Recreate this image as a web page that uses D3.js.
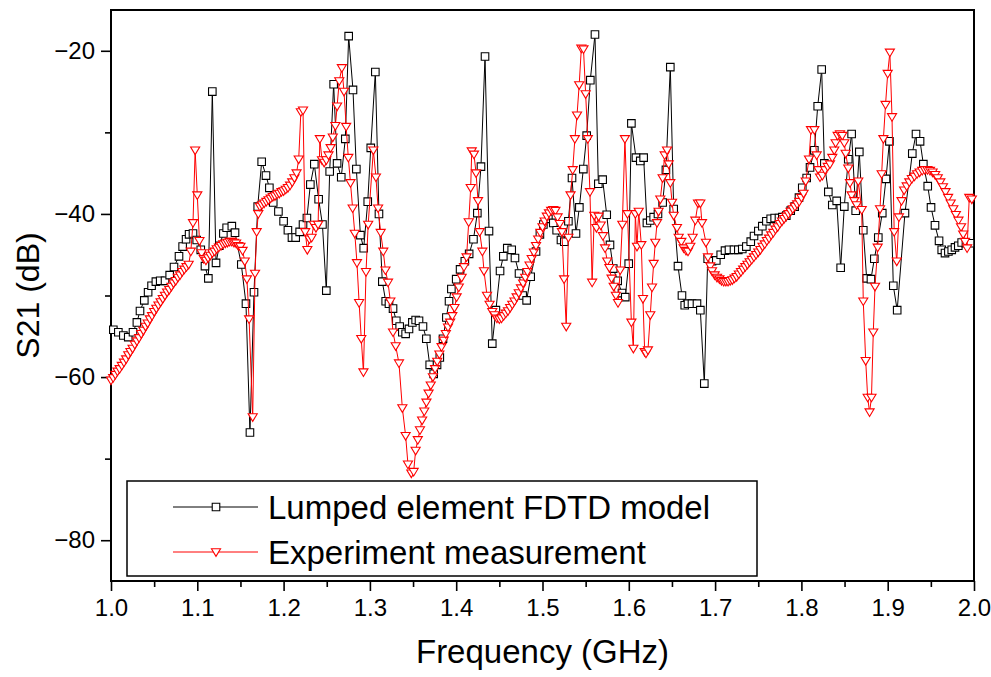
<!DOCTYPE html>
<html>
<head>
<meta charset="utf-8">
<script src="https://cdnjs.cloudflare.com/ajax/libs/d3/7.8.5/d3.min.js"></script>
<style>
  body { margin: 0; background: #fff; }
  svg { display: block; font-family: "Liberation Sans", Arial, sans-serif; }
</style>
</head>
<body>
<svg id="chart" width="991" height="677"></svg>
<script>
// tick values
const xMajorTicks = [1.0, 1.1, 1.2, 1.3, 1.4, 1.5, 1.6, 1.7, 1.8, 1.9, 2.0];
const xMinorTicks = [1.05, 1.15, 1.25, 1.35, 1.45, 1.55, 1.65, 1.75, 1.85, 1.95];
const yMajorTicks = [-80, -60, -40, -20];
const yMinorTicks = [-70, -50, -30];

const seriesNames = ['Lumped element FDTD model', 'Experiment measurement'];

// [frequency (GHz), S21 (dB)]
const modelPoints = [
  [1.0027,-54.2],[1.0085,-54.5],[1.0143,-54.9],[1.0200,-55.1],[1.0255,-54.5],[1.0300,-53.3],[1.0336,-51.9],[1.0386,-50.6],[1.0430,-49.6],[1.0470,-48.8],
  [1.0520,-48.3],[1.0570,-48.2],[1.0626,-48.2],[1.0680,-47.5],[1.0730,-46.5],[1.0788,-45.2],[1.0830,-44.0],[1.0870,-43.1],[1.0905,-42.5],[1.0950,-42.4],
  [1.0993,-43.2],[1.1040,-44.4],[1.1089,-46.4],[1.1128,-47.9],[1.1174,-25.0],[1.1217,-46.0],[1.1255,-43.9],[1.1302,-42.4],[1.1340,-41.7],[1.1400,-41.5],
  [1.1437,-42.3],[1.1510,-46.2],[1.1564,-51.0],[1.1610,-66.8],[1.1657,-49.6],[1.1700,-39.1],[1.1746,-33.6],[1.1796,-35.3],[1.1835,-36.8],[1.1880,-38.6],
  [1.1940,-39.7],[1.2000,-40.9],[1.2050,-42.0],[1.2097,-42.9],[1.2140,-42.9],[1.2186,-42.2],[1.2225,-41.3],[1.2270,-40.5],[1.2310,-36.4],[1.2356,-33.9],
  [1.2406,-38.2],[1.2450,-41.3],[1.2495,-49.4],[1.2534,-34.8],[1.2580,-24.1],[1.2620,-33.8],[1.2668,-35.5],[1.2715,-30.8],[1.2754,-18.2],[1.2804,-24.8],
  [1.2843,-34.5],[1.2890,-42.6],[1.2928,-44.2],[1.2975,-38.5],[1.3010,-31.9],[1.3063,-22.6],[1.3105,-40.0],[1.3144,-48.3],[1.3183,-50.7],[1.3221,-51.0],
  [1.3268,-51.6],[1.3306,-53.1],[1.3345,-53.8],[1.3376,-54.5],[1.3414,-54.7],[1.3453,-54.1],[1.3492,-53.3],[1.3530,-53.0],[1.3569,-53.1],[1.3615,-53.8],
  [1.3654,-55.3],[1.3693,-58.5],[1.3739,-59.6],[1.3778,-58.5],[1.3810,-57.6],[1.3847,-55.3],[1.3886,-52.7],[1.3917,-50.7],[1.3944,-49.2],[1.4000,-48.0],
  [1.4045,-46.8],[1.4100,-45.8],[1.4150,-44.9],[1.4200,-43.1],[1.4245,-39.9],[1.4287,-34.2],[1.4334,-20.7],[1.4380,-42.1],[1.4418,-55.9],[1.4460,-51.8],
  [1.4508,-47.0],[1.4546,-45.2],[1.4592,-44.2],[1.4643,-44.4],[1.4681,-45.4],[1.4728,-47.3],[1.4770,-50.0],[1.4816,-50.6],[1.4863,-47.7],[1.4925,-44.6],
  [1.4970,-42.5],[1.5010,-41.3],[1.5068,-40.6],[1.5125,-41.1],[1.5164,-42.0],[1.5214,-43.2],[1.5253,-43.4],[1.5300,-40.9],[1.5342,-35.6],[1.5388,-42.4],
  [1.5427,-39.2],[1.5473,-34.5],[1.5512,-30.4],[1.5554,-23.6],[1.5608,-18.0],[1.5647,-36.3],[1.5697,-35.8],[1.5744,-40.1],[1.5782,-43.8],[1.5820,-46.7],
  [1.5871,-48.2],[1.5921,-49.7],[1.5959,-50.2],[1.5999,-46.1],[1.6030,-28.9],[1.6083,-33.1],[1.6133,-33.5],[1.6172,-33.1],[1.6210,-41.1],[1.6249,-40.8],
  [1.6288,-40.4],[1.6338,-40.0],[1.6392,-38.6],[1.6430,-34.6],[1.6481,-22.0],[1.6520,-39.4],[1.6570,-46.4],[1.6616,-50.0],[1.6648,-51.2],[1.6686,-51.0],
  [1.6732,-51.0],[1.6790,-51.0],[1.6829,-51.8],[1.6875,-60.8],[1.6914,-45.5],[1.6964,-45.8],[1.7014,-45.7],[1.7065,-45.0],[1.7115,-44.5],[1.7161,-44.4],
  [1.7219,-44.4],[1.7269,-44.4],[1.7315,-44.3],[1.7362,-44.0],[1.7413,-43.4],[1.7451,-42.7],[1.7501,-42.1],[1.7547,-41.5],[1.7594,-40.9],[1.7644,-40.6],
  [1.7690,-40.5],[1.7740,-40.5],[1.7779,-40.4],[1.7825,-40.2],[1.7876,-39.6],[1.7922,-39.1],[1.7972,-38.0],[1.8010,-36.8],[1.8061,-35.6],[1.8100,-34.3],
  [1.8150,-32.2],[1.8189,-26.8],[1.8235,-22.3],[1.8266,-33.8],[1.8312,-37.3],[1.8358,-38.9],[1.8409,-38.4],[1.8455,-46.6],[1.8497,-39.1],[1.8543,-33.3],
  [1.8582,-30.2],[1.8629,-39.6],[1.8671,-32.4],[1.8717,-42.0],[1.8756,-47.9],[1.8806,-48.0],[1.8845,-45.5],[1.8891,-42.9],[1.8937,-39.9],[1.8980,-35.7],
  [1.9020,-31.1],[1.9065,-48.8],[1.9110,-51.8],[1.9200,-39.9],[1.9285,-32.6],[1.9328,-30.2],[1.9375,-31.1],[1.9413,-33.9],[1.9464,-36.6],[1.9502,-39.2],
  [1.9548,-41.4],[1.9595,-43.3],[1.9626,-44.4],[1.9664,-44.8],[1.9703,-44.6],[1.9742,-44.4],[1.9780,-44.1],[1.9818,-43.9],[1.9857,-43.5],[1.9907,-43.6],
  [1.9954,-43.6]
];

const expPoints = [
  [1.0000,-60.4],[1.0025,-60.1],[1.0050,-59.7],[1.0075,-59.3],[1.0100,-59.0],[1.0125,-58.6],[1.0150,-58.2],[1.0175,-57.8],[1.0200,-57.3],[1.0225,-56.9],
  [1.0250,-56.5],[1.0275,-56.0],[1.0300,-55.6],[1.0325,-55.2],[1.0350,-54.7],[1.0375,-54.3],[1.0400,-53.8],[1.0425,-53.4],[1.0450,-52.9],[1.0475,-52.5],
  [1.0500,-52.0],[1.0525,-51.6],[1.0550,-51.2],[1.0575,-50.8],[1.0600,-50.4],[1.0625,-50.0],[1.0650,-49.6],[1.0675,-49.3],[1.0700,-48.9],[1.0725,-48.5],
  [1.0750,-48.2],[1.0775,-47.8],[1.0800,-47.5],[1.0825,-47.1],[1.0850,-46.8],[1.0875,-46.5],[1.0900,-46.2],[1.0925,-44.6],[1.0950,-41.1],[1.0975,-32.2],
  [1.1000,-37.7],[1.1025,-43.3],[1.1050,-44.8],[1.1075,-45.5],[1.1100,-45.7],[1.1125,-45.4],[1.1150,-45.1],[1.1175,-44.8],[1.1200,-44.6],[1.1225,-44.3],
  [1.1250,-44.1],[1.1275,-43.9],[1.1300,-43.7],[1.1325,-43.6],[1.1350,-43.5],[1.1375,-43.4],[1.1400,-43.4],[1.1425,-43.5],[1.1450,-43.6],[1.1475,-43.9],
  [1.1500,-44.0],[1.1525,-44.5],[1.1550,-45.8],[1.1575,-48.0],[1.1600,-52.9],[1.1642,-64.9],[1.1669,-47.3],[1.1688,-42.2],[1.1707,-40.0],[1.1726,-39.1],
  [1.1750,-38.9],[1.1775,-38.7],[1.1800,-38.5],[1.1825,-38.3],[1.1850,-38.1],[1.1875,-37.9],[1.1900,-37.8],[1.1925,-37.6],[1.1950,-37.5],[1.1975,-37.3],
  [1.2000,-37.2],[1.2025,-37.0],[1.2050,-36.8],[1.2075,-36.5],[1.2100,-36.1],[1.2125,-35.6],[1.2150,-35.0],[1.2175,-33.3],[1.2200,-27.5],[1.2225,-27.3],
  [1.2250,-42.2],[1.2275,-44.4],[1.2300,-43.1],[1.2325,-42.9],[1.2350,-41.3],[1.2375,-41.7],[1.2400,-41.3],[1.2420,-30.8],[1.2445,-33.4],[1.2470,-33.7],
  [1.2495,-33.4],[1.2520,-32.8],[1.2545,-31.9],[1.2570,-30.6],[1.2600,-29.2],[1.2620,-26.8],[1.2645,-23.7],[1.2675,-22.1],[1.2700,-25.0],[1.2725,-29.3],
  [1.2750,-33.1],[1.2775,-36.2],[1.2800,-39.3],[1.2825,-42.4],[1.2850,-46.0],[1.2875,-50.9],[1.2900,-55.3],[1.2925,-59.4],[1.2955,-47.1],[1.2980,-41.3],
  [1.3040,-32.2],[1.3070,-35.5],[1.3095,-39.3],[1.3125,-42.3],[1.3155,-44.6],[1.3180,-46.9],[1.3210,-48.4],[1.3237,-50.7],[1.3268,-54.5],[1.3299,-56.2],
  [1.3337,-58.3],[1.3376,-63.8],[1.3414,-67.2],[1.3441,-70.7],[1.3480,-71.8],[1.3507,-71.6],[1.3530,-69.0],[1.3555,-67.7],[1.3580,-66.5],[1.3605,-65.3],
  [1.3630,-64.2],[1.3655,-63.1],[1.3680,-62.0],[1.3705,-61.0],[1.3730,-60.0],[1.3755,-59.0],[1.3780,-58.1],[1.3805,-57.2],[1.3830,-56.3],[1.3855,-55.5],
  [1.3880,-54.7],[1.3905,-53.9],[1.3930,-53.3],[1.3955,-52.5],[1.3980,-51.5],[1.4005,-50.2],[1.4030,-49.0],[1.4063,-47.8],[1.4090,-46.5],[1.4120,-45.3],
  [1.4145,-41.0],[1.4168,-36.8],[1.4180,-32.3],[1.4206,-32.7],[1.4230,-35.0],[1.4253,-38.4],[1.4272,-42.2],[1.4303,-44.6],[1.4322,-47.0],[1.4357,-50.0],
  [1.4387,-51.1],[1.4418,-52.0],[1.4445,-52.4],[1.4472,-52.8],[1.4500,-52.9],[1.4525,-52.8],[1.4550,-52.5],[1.4575,-52.2],[1.4600,-51.9],[1.4625,-51.5],
  [1.4650,-51.1],[1.4675,-50.7],[1.4700,-50.2],[1.4725,-49.7],[1.4750,-49.1],[1.4775,-48.5],[1.4800,-47.8],[1.4825,-47.1],[1.4850,-46.3],[1.4875,-45.5],
  [1.4900,-44.7],[1.4925,-43.9],[1.4950,-43.1],[1.4975,-42.3],[1.5000,-41.6],[1.5025,-40.9],[1.5050,-40.3],[1.5075,-39.9],[1.5100,-39.6],[1.5125,-39.5],
  [1.5150,-39.6],[1.5175,-40.4],[1.5200,-41.2],[1.5225,-42.2],[1.5250,-48.0],[1.5275,-53.8],[1.5300,-42.9],[1.5325,-37.7],[1.5350,-34.6],[1.5375,-30.8],
  [1.5400,-27.9],[1.5425,-24.2],[1.5450,-19.7],[1.5475,-19.8],[1.5500,-25.3],[1.5525,-30.8],[1.5550,-37.3],[1.5575,-48.4],[1.5600,-40.2],[1.5625,-41.7],
  [1.5650,-40.3],[1.5675,-41.4],[1.5700,-42.7],[1.5725,-44.2],[1.5750,-45.8],[1.5775,-46.6],[1.5800,-47.9],[1.5825,-48.9],[1.5850,-50.0],[1.5875,-50.9],
  [1.5900,-46.9],[1.5925,-41.3],[1.5955,-30.8],[1.5985,-40.0],[1.6030,-53.3],[1.6053,-56.5],[1.6076,-40.0],[1.6095,-44.0],[1.6115,-39.7],[1.6145,-43.8],
  [1.6164,-50.4],[1.6184,-56.9],[1.6199,-57.1],[1.6222,-56.7],[1.6249,-52.4],[1.6269,-49.0],[1.6288,-46.1],[1.6307,-43.5],[1.6327,-41.1],[1.6345,-39.7],
  [1.6365,-38.2],[1.6392,-35.6],[1.6416,-32.8],[1.6443,-32.2],[1.6462,-33.9],[1.6481,-36.2],[1.6501,-38.6],[1.6520,-40.2],[1.6558,-41.7],[1.6578,-42.9],
  [1.6609,-43.4],[1.6636,-44.2],[1.6663,-44.5],[1.6686,-44.6],[1.6713,-44.0],[1.6740,-42.9],[1.6771,-40.8],[1.6802,-38.7],[1.6829,-38.7],[1.6848,-41.1],
  [1.6894,-43.5],[1.6917,-45.3],[1.6944,-46.4],[1.6964,-47.0],[1.6995,-47.5],[1.7022,-47.8],[1.7050,-48.0],[1.7075,-48.2],[1.7100,-48.3],[1.7125,-48.3],
  [1.7150,-48.3],[1.7175,-48.2],[1.7200,-48.1],[1.7225,-47.9],[1.7250,-47.7],[1.7275,-47.4],[1.7300,-47.1],[1.7325,-46.8],[1.7350,-46.5],[1.7375,-46.2],
  [1.7400,-45.9],[1.7425,-45.6],[1.7450,-45.3],[1.7475,-45.0],[1.7500,-44.7],[1.7525,-44.4],[1.7550,-44.0],[1.7575,-43.7],[1.7600,-43.3],[1.7625,-43.0],
  [1.7650,-42.6],[1.7675,-42.3],[1.7700,-41.9],[1.7725,-41.6],[1.7750,-41.2],[1.7775,-40.9],[1.7800,-40.6],[1.7825,-40.3],[1.7850,-40.0],[1.7875,-39.7],
  [1.7900,-39.4],[1.7925,-39.1],[1.7950,-38.8],[1.7975,-38.5],[1.8000,-38.0],[1.8025,-37.5],[1.8050,-36.0],[1.8088,-33.3],[1.8111,-29.7],[1.8150,-29.7],
  [1.8177,-32.8],[1.8196,-34.6],[1.8216,-35.5],[1.8243,-35.3],[1.8274,-34.6],[1.8305,-34.2],[1.8331,-33.9],[1.8358,-33.1],[1.8381,-32.2],[1.8397,-31.3],
  [1.8420,-30.4],[1.8447,-30.2],[1.8474,-30.4],[1.8497,-31.3],[1.8513,-32.6],[1.8543,-34.4],[1.8563,-36.2],[1.8582,-37.7],[1.8613,-38.4],[1.8640,-38.9],
  [1.8659,-36.0],[1.8699,-39.5],[1.8717,-50.7],[1.8745,-58.0],[1.8768,-62.5],[1.8790,-64.3],[1.8812,-62.5],[1.8833,-54.5],[1.8853,-48.9],[1.8884,-44.1],
  [1.8911,-39.4],[1.8930,-35.1],[1.8950,-30.8],[1.8975,-26.6],[1.9000,-22.8],[1.9025,-20.2],[1.9050,-28.1],[1.9075,-42.2],[1.9105,-45.8],[1.9130,-40.4],
  [1.9160,-38.4],[1.9190,-37.1],[1.9220,-36.6],[1.9250,-36.1],[1.9280,-35.7],[1.9310,-35.4],[1.9340,-35.1],[1.9370,-34.9],[1.9400,-34.7],[1.9430,-34.6],
  [1.9460,-34.6],[1.9490,-34.7],[1.9520,-34.9],[1.9550,-35.2],[1.9580,-35.6],[1.9610,-36.1],[1.9640,-36.7],[1.9670,-37.3],[1.9700,-38.0],[1.9730,-38.7],
  [1.9760,-39.4],[1.9790,-40.1],[1.9820,-40.8],[1.9850,-41.6],[1.9875,-42.5],[1.9896,-43.4],[1.9920,-44.2],[1.9945,-38.0],[1.9975,-38.2]
];

const config = {
  width: 991,
  height: 677,
  margin: { top: 10, right: 17, bottom: 96, left: 111 }
};

const innerW = config.width - config.margin.left - config.margin.right;
const innerH = config.height - config.margin.top - config.margin.bottom;

const svg = d3.select('#chart');
const chart = svg.append('g')
  .attr('transform', `translate(${config.margin.left},${config.margin.top})`);

const xScale = d3.scaleLinear().domain([1.0, 2.0]).range([0, innerW]);
const yScale = d3.scaleLinear().domain([-85, -15]).range([innerH, 0]);

// axes: major ticks with labels, minor ticks without
const xAxis = d3.axisBottom(xScale).tickValues(xMajorTicks)
  .tickFormat(d3.format('.1f')).tickSizeInner(10).tickSizeOuter(0).tickPadding(8);
const xMinor = d3.axisBottom(xScale).tickValues(xMinorTicks)
  .tickFormat('').tickSizeInner(6).tickSizeOuter(0);
const yAxis = d3.axisLeft(yScale).tickValues(yMajorTicks)
  .tickFormat(d3.format('d')).tickSizeInner(10).tickSizeOuter(0).tickPadding(6);
const yMinor = d3.axisLeft(yScale).tickValues(yMinorTicks)
  .tickFormat('').tickSizeInner(6).tickSizeOuter(0);

function styleAxis(g) {
  g.select('.domain').remove();
  g.selectAll('.tick line').attr('stroke', '#000').attr('stroke-width', 1.6);
  g.selectAll('.tick text')
    .attr('fill', '#000')
    .style('font-size', '24px')
    .style('font-family', '"Liberation Sans", Arial, sans-serif');
}

chart.append('g').attr('transform', `translate(0,${innerH})`).call(xAxis).call(styleAxis);
chart.append('g').attr('transform', `translate(0,${innerH})`).call(xMinor).call(styleAxis);
chart.append('g').call(yAxis).call(styleAxis);
chart.append('g').call(yMinor).call(styleAxis);

// plot frame
chart.append('rect')
  .attr('x', 0).attr('y', 0)
  .attr('width', innerW).attr('height', innerH)
  .attr('fill', 'none')
  .attr('stroke', '#000')
  .attr('stroke-width', 2);

// marker shapes
const squareSymbol = d3.symbol().type(d3.symbolSquare).size(57);
const downTriangle = {
  draw(context, size) {
    const w = Math.sqrt(size) * 0.62;
    context.moveTo(-w, -w * 0.72);
    context.lineTo(w, -w * 0.72);
    context.lineTo(0, w * 0.95);
    context.closePath();
  }
};
const triangleSymbol = d3.symbol().type(downTriangle).size(54);

const line = d3.line()
  .x(d => xScale(d[0]))
  .y(d => yScale(d[1]));

// model series
chart.append('path')
  .datum(modelPoints)
  .attr('fill', 'none')
  .attr('stroke', '#000')
  .attr('stroke-width', 1)
  .attr('d', line);

chart.selectAll('.model-point')
  .data(modelPoints)
  .join('path')
  .attr('class', 'model-point')
  .attr('transform', d => `translate(${xScale(d[0])},${yScale(d[1])})`)
  .attr('d', squareSymbol)
  .attr('fill', '#fff')
  .attr('stroke', '#000')
  .attr('stroke-width', 1.1);

// experiment series
chart.append('path')
  .datum(expPoints)
  .attr('fill', 'none')
  .attr('stroke', '#ff0000')
  .attr('stroke-width', 1)
  .attr('d', line);

chart.selectAll('.exp-point')
  .data(expPoints)
  .join('path')
  .attr('class', 'exp-point')
  .attr('transform', d => `translate(${xScale(d[0])},${yScale(d[1])})`)
  .attr('d', triangleSymbol)
  .attr('fill', '#fff')
  .attr('stroke', '#ff0000')
  .attr('stroke-width', 1.1);

// axis titles
svg.append('text')
  .attr('transform', `translate(28,${config.margin.top + innerH / 2}) rotate(-90)`)
  .attr('text-anchor', 'middle')
  .attr('dy', '0.35em')
  .style('font-size', '32px')
  .text('S21 (dB)');

svg.append('text')
  .attr('x', config.margin.left + innerW / 2)
  .attr('y', 663)
  .attr('text-anchor', 'middle')
  .style('font-size', '33px')
  .text('Frequency (GHz)');

// legend
const legend = svg.append('g');
legend.append('rect')
  .attr('x', 127).attr('y', 481)
  .attr('width', 630).attr('height', 95)
  .attr('fill', '#fff')
  .attr('stroke', '#000')
  .attr('stroke-width', 1.5);

const legendRows = [
  { name: seriesNames[0], color: '#000', symbol: squareSymbol, y: 507 },
  { name: seriesNames[1], color: '#ff0000', symbol: triangleSymbol, y: 552 }
];

legendRows.forEach(r => {
  legend.append('line')
    .attr('x1', 173).attr('x2', 258)
    .attr('y1', r.y).attr('y2', r.y)
    .attr('stroke', r.color)
    .attr('stroke-width', 1);
  legend.append('path')
    .attr('transform', `translate(216,${r.y})`)
    .attr('d', r.symbol)
    .attr('fill', '#fff')
    .attr('stroke', r.color)
    .attr('stroke-width', 1.1);
  legend.append('text')
    .attr('x', 268)
    .attr('y', r.y)
    .attr('dy', '0.36em')
    .style('font-size', '33px')
    .text(r.name);
});
</script>
</body>
</html>
